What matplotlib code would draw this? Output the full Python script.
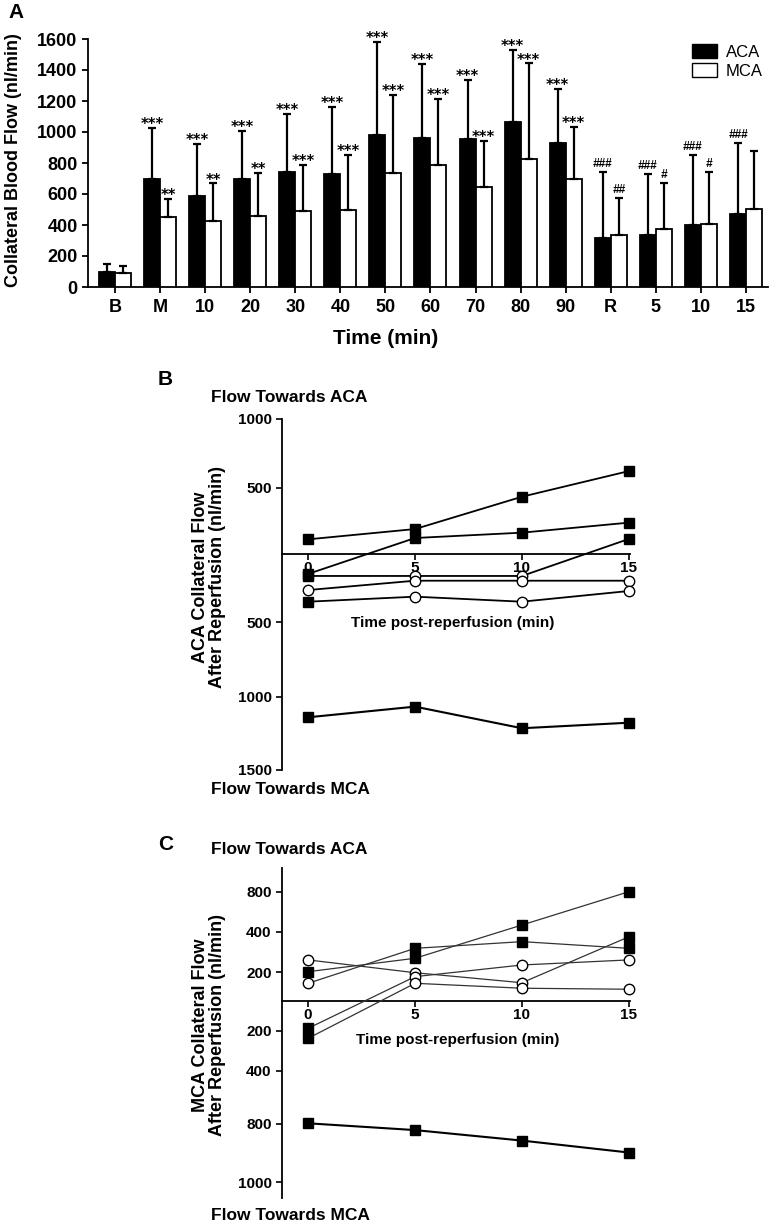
import numpy as np
import matplotlib
matplotlib.use('Agg')
import matplotlib.pyplot as plt
from matplotlib.patches import Patch
from matplotlib.ticker import NullLocator

plt.rcParams['font.family'] = ['Liberation Sans', 'DejaVu Sans']

# ---- panel A: mean collateral flow per time point ----
groups = ['B', 'M', '10', '20', '30', '40', '50', '60', '70', '80', '90', 'R', '5', '10', '15']
aca_mean = [100, 698, 585, 700, 743, 726, 983, 964, 955, 1067, 926, 318, 337, 399, 468]
aca_sd = [50, 331, 339, 305, 374, 438, 596, 475, 381, 462, 350, 421, 389, 454, 458]
mca_mean = [90, 453, 425, 459, 490, 498, 735, 788, 642, 825, 696, 335, 376, 408, 502]
mca_sd = [43, 116, 243, 275, 298, 353, 502, 423, 303, 618, 335, 241, 292, 335, 375]
aca_sig = ['', '***', '***', '***', '***', '***', '***', '***', '***', '***', '***',
           '###', '###', '###', '###']
mca_sig = ['', '**', '**', '**', '***', '***', '***', '***', '***', '***', '***',
           '##', '#', '#', '']

# ---- panels B and C: individual animals after reperfusion ----
# positive = flow towards ACA, negative = flow towards MCA (nl/min)
time = [0, 5, 10, 15]
b_flow = [
    [112, 189, 431, 620],
    [-145, 122, 162, 237],
    [-160, -160, -160, 115],
    [-264, -195, -195, -195],
    [-350, -313, -350, -271],
    [-1139, -1066, -1214, -1176],
]
b_marks = ['ssss', 'ssss', 'soos', 'oooo', 'sooo', 'ssss']
b_ticks = [-1500, -1000, -500, 500, 1000]

c_flow = [
    [261, 197, 128, 375],
    [203, 269, 467, 800],
    [124, 318, 351, 318],
    [-184, 170, 236, 261],
    [-238, 124, 90, 83],
    [-795, -821, -857, -898],
]
c_marks = ['ooos', 'ssss', 'osss', 'sooo', 'sooo', 'ssss']
c_ticks = [-1000, -800, -400, -200, 200, 400, 800]

# the published axes are not linear: tick value -> height above zero line (px)
b_axis_vals = [-1500, -1000, -500, 0, 500, 1000]
b_axis_h = [-215.7, -142.7, -67.7, 0, 66.8, 135.3]
c_axis_vals = [-1000, -800, -400, -200, 0, 200, 400, 800]
c_axis_h = [-181.0, -122.7, -69.7, -29.4, 0, 29.0, 69.6, 109.6]

W, H = 770, 1226


def fx(px):
    return px / W


def fy(py):
    return 1 - py / H


def piecewise(xs, ys):
    xs = np.asarray(xs, float)
    ys = np.asarray(ys, float)

    def f(v):
        v = np.asarray(v, float)
        out = np.interp(v, xs, ys)
        lo = ys[0] + (v - xs[0]) * (ys[1] - ys[0]) / (xs[1] - xs[0])
        hi = ys[-1] + (v - xs[-1]) * (ys[-1] - ys[-2]) / (xs[-1] - xs[-2])
        out = np.where(v < xs[0], lo, out)
        out = np.where(v > xs[-1], hi, out)
        return out
    return f


fig = plt.figure(figsize=(W / 100, H / 100), dpi=100)

# ================= panel A =================
ax = fig.add_axes([fx(88), fy(287), fx(768 - 88), (287 - 39) / H])
x = np.arange(len(groups))
bw = 0.355
ekw = dict(elinewidth=1.6, capthick=1.6, ecolor='black')
ax.bar(x - bw / 2, aca_mean, bw, color='black', edgecolor='black', linewidth=1.3,
       yerr=[np.zeros(len(x)), aca_sd], capsize=3.2, error_kw=ekw, label='ACA', zorder=3)
ax.bar(x + bw / 2, mca_mean, bw, color='white', edgecolor='black', linewidth=1.3,
       yerr=[np.zeros(len(x)), mca_sd], capsize=3.2, error_kw=ekw, label='MCA', zorder=3)
for i in range(len(groups)):
    for off, m, s, lab in [(-bw / 2, aca_mean[i], aca_sd[i], aca_sig[i]),
                           (bw / 2, mca_mean[i], mca_sd[i], mca_sig[i])]:
        if not lab:
            continue
        if lab[0] == '*':
            ax.annotate(lab, (x[i] + off, m + s), xytext=(0, -3), textcoords='offset points',
                        ha='center', va='bottom', fontsize=10.5, fontweight='bold',
                        family='DejaVu Sans')
        else:
            ax.annotate(lab, (x[i] + off, m + s), xytext=(0, 1.5), textcoords='offset points',
                        ha='center', va='bottom', fontsize=8.5, fontweight='bold',
                        fontstyle='italic')
ax.set_xlim(-0.6, 14.49)
ax.set_ylim(0, 1600)
ax.set_yticks(range(0, 1601, 200))
ax.set_xticks(x)
ax.set_xticklabels(groups)
for sp in ['top', 'right']:
    ax.spines[sp].set_visible(False)
for sp in ['left', 'bottom']:
    ax.spines[sp].set_linewidth(1.3)
ax.tick_params(axis='both', labelsize=13, width=1.3, length=4, direction='out')
ax.tick_params(axis='x', pad=5)
for t in ax.get_xticklabels() + ax.get_yticklabels():
    t.set_fontweight('bold')
ax.legend(handles=[Patch(facecolor='black', edgecolor='black', label='ACA'),
                   Patch(facecolor='white', edgecolor='black', label='MCA')],
          loc='upper left', bbox_to_anchor=(fx(684), fy(36)), bbox_transform=fig.transFigure,
          frameon=False, fontsize=12, handlelength=1.5, handleheight=0.9,
          handletextpad=0.5, labelspacing=0.2, borderpad=0)
fig.text(fx(14), fy(160), 'Collateral Blood Flow (nl/min)', rotation=90, ha='center',
         va='center', fontsize=13, fontweight='bold')
fig.text(fx(386), fy(339), 'Time (min)', ha='center', va='center', fontsize=15,
         fontweight='bold')
fig.text(fx(8), fy(13), 'A', ha='left', va='center', fontsize=15, fontweight='bold')


# ================= panels B, C =================
def flow_panel(ax, series, marks, avals, aheights, ticks, ylim, lw, lc):
    ax.set_yscale('function', functions=(piecewise(avals, aheights), piecewise(aheights, avals)))
    ax.set_ylim(ylim)
    ax.set_xlim(-1.22, 15.05)
    for k, (vals, mk) in enumerate(zip(series, marks)):
        vals = np.asarray(vals, float)
        t = np.asarray(time, float)
        width = 1.5 if k == len(series) - 1 else lw
        color = 'black' if k == len(series) - 1 else lc
        ax.plot(t, vals, color=color, lw=width, zorder=3, clip_on=False)
        sq = np.array([c == 's' for c in mk])
        ax.plot(t[sq], vals[sq], ls='none', marker='s', ms=7.5, mfc='black', mec='black',
                zorder=4, clip_on=False)
        ax.plot(t[~sq], vals[~sq], ls='none', marker='o', ms=7.5, mfc='white', mec='black',
                mew=1.0, zorder=5, clip_on=False)
    ax.spines['bottom'].set_position(('data', 0))
    ax.spines['top'].set_visible(False)
    ax.spines['right'].set_visible(False)
    ax.spines['left'].set_linewidth(1.3)
    ax.spines['bottom'].set_linewidth(1.3)
    ax.set_xticks(time)
    ax.set_yticks(ticks)
    ax.set_yticklabels([str(abs(v)) for v in ticks])
    ax.yaxis.set_minor_locator(NullLocator())
    ax.tick_params(axis='both', labelsize=11, width=1.2, length=4, direction='out')
    ax.tick_params(axis='x', pad=1)
    for t in ax.get_xticklabels() + ax.get_yticklabels():
        t.set_fontweight('bold')


axb = fig.add_axes([fx(282), fy(770), fx(630 - 282), (770 - 419) / H])
flow_panel(axb, b_flow, b_marks, b_axis_vals, b_axis_h, b_ticks, (-1500, 1000), 1.3, 'black')
fig.text(fx(158), fy(380), 'B', ha='left', va='center', fontsize=15, fontweight='bold')
fig.text(fx(211), fy(398), 'Flow Towards ACA', ha='left', va='center', fontsize=12.5,
         fontweight='bold')
fig.text(fx(211), fy(789), 'Flow Towards MCA', ha='left', va='center', fontsize=12.5,
         fontweight='bold')
fig.text(fx(453), fy(623), 'Time post-reperfusion (min)', ha='center', va='center',
         fontsize=11, fontweight='bold')
fig.text(fx(209), fy(577), 'ACA Collateral Flow\nAfter Reperfusion (nl/min)', rotation=90,
         ha='center', va='center', multialignment='center', fontsize=13, fontweight='bold',
         linespacing=1.0)

axc = fig.add_axes([fx(282), fy(1198), fx(630 - 282), (1198 - 868) / H])
flow_panel(axc, c_flow, c_marks, c_axis_vals, c_axis_h, c_ticks, (-1054, 1037), 0.9, '#333333')
fig.text(fx(158), fy(845), 'C', ha='left', va='center', fontsize=15, fontweight='bold')
fig.text(fx(211), fy(849), 'Flow Towards ACA', ha='left', va='center', fontsize=12.5,
         fontweight='bold')
fig.text(fx(211), fy(1215), 'Flow Towards MCA', ha='left', va='center', fontsize=12.5,
         fontweight='bold')
fig.text(fx(458), fy(1040), 'Time post-reperfusion (min)', ha='center', va='center',
         fontsize=11, fontweight='bold')
fig.text(fx(209), fy(1025), 'MCA Collateral Flow\nAfter Reperfusion (nl/min)', rotation=90,
         ha='center', va='center', multialignment='center', fontsize=13, fontweight='bold',
         linespacing=1.0)

fig.savefig('out.png', dpi=100)
